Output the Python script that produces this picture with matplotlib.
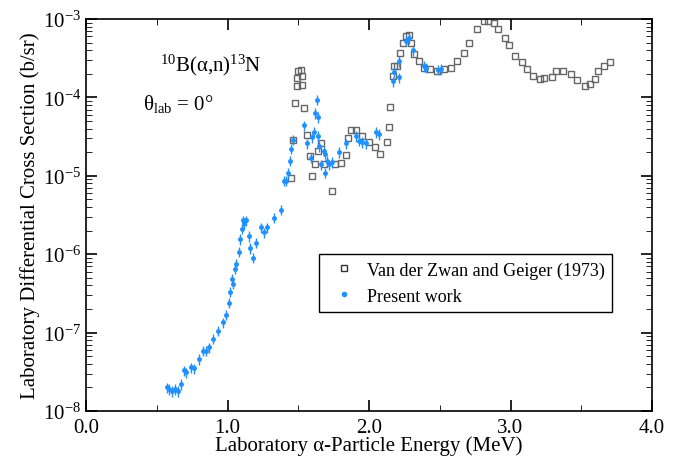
import numpy as np
import matplotlib.pyplot as plt
from matplotlib.ticker import LogLocator, MultipleLocator, FuncFormatter
from matplotlib.lines import Line2D

plt.rcParams['font.family'] = ['Liberation Serif', 'DejaVu Serif']
plt.rcParams['mathtext.fontset'] = 'custom'
plt.rcParams['mathtext.rm'] = 'Liberation Serif'
plt.rcParams['mathtext.it'] = 'Liberation Serif'

# Van der Zwan and Geiger (1973)
vdz_e = [1.45, 1.46, 1.48, 1.49, 1.49, 1.50, 1.52, 1.53, 1.53, 1.54, 1.56, 1.58, 1.60, 1.62,
         1.64, 1.66, 1.68, 1.74, 1.76, 1.80, 1.84, 1.85, 1.87, 1.91, 1.95, 2.00, 2.04, 2.08,
         2.13, 2.14, 2.15, 2.17, 2.18, 2.20, 2.22, 2.24, 2.26, 2.28, 2.30, 2.32, 2.35, 2.39,
         2.43, 2.48, 2.53, 2.58, 2.62, 2.67, 2.71, 2.76, 2.81, 2.84, 2.88, 2.91, 2.96, 2.99,
         3.03, 3.08, 3.12, 3.16, 3.21, 3.24, 3.29, 3.32, 3.37, 3.43, 3.47, 3.53, 3.56, 3.60,
         3.62, 3.66, 3.70]
vdz_s = [9.5e-6, 2.9e-5, 8.5e-5, 1.4e-4, 1.75e-4, 2.2e-4, 2.25e-4, 1.85e-4, 1.45e-4, 7.4e-5,
         3.3e-5, 1.8e-5, 1.0e-5, 1.4e-5, 2.1e-5, 2.6e-5, 1.4e-5, 6.4e-6, 1.4e-5, 1.45e-5,
         1.85e-5, 3.0e-5, 3.8e-5, 3.8e-5, 3.2e-5, 2.7e-5, 2.3e-5, 1.9e-5, 2.7e-5, 4.2e-5,
         7.6e-5, 1.9e-4, 2.5e-4, 2.5e-4, 3.7e-4, 5.0e-4, 6.1e-4, 6.2e-4, 5.0e-4, 3.6e-4,
         2.9e-4, 2.4e-4, 2.3e-4, 2.2e-4, 2.3e-4, 2.4e-4, 2.9e-4, 3.7e-4, 5.0e-4, 7.4e-4,
         9.3e-4, 9.5e-4, 9.0e-4, 7.4e-4, 5.8e-4, 4.6e-4, 3.4e-4, 2.85e-4, 2.3e-4, 1.9e-4,
         1.7e-4, 1.75e-4, 1.8e-4, 2.2e-4, 2.2e-4, 2.0e-4, 1.65e-4, 1.4e-4, 1.5e-4, 1.7e-4,
         2.2e-4, 2.5e-4, 2.85e-4]

# Present work
pw_e = [0.57, 0.59, 0.61, 0.63, 0.65, 0.67, 0.69, 0.71, 0.74, 0.76, 0.80, 0.83, 0.85, 0.87,
        0.90, 0.93, 0.97, 0.99, 1.01, 1.02, 1.03, 1.04, 1.05, 1.06, 1.08, 1.09, 1.10, 1.11,
        1.12, 1.13, 1.15, 1.16, 1.18, 1.20, 1.24, 1.26, 1.28, 1.33, 1.38, 1.40, 1.41, 1.43,
        1.44, 1.45, 1.46, 1.54, 1.56, 1.59, 1.60, 1.61, 1.62, 1.63, 1.64, 1.64, 1.65, 1.66,
        1.68, 1.69, 1.69, 1.70, 1.72, 1.74, 1.79, 1.84, 1.91, 1.93, 1.95, 1.98, 2.05, 2.07,
        2.17, 2.18, 2.21, 2.21, 2.26, 2.28, 2.31, 2.39, 2.40, 2.49, 2.51]
pw_s = [2.0e-8, 1.9e-8, 1.8e-8, 1.9e-8, 1.8e-8, 2.2e-8, 3.3e-8, 3.1e-8, 3.6e-8, 3.5e-8,
        4.6e-8, 5.9e-8, 5.9e-8, 6.5e-8, 8.3e-8, 1.05e-7, 1.35e-7, 1.7e-7, 2.4e-7, 3.3e-7,
        4.8e-7, 4.2e-7, 6.5e-7, 7.6e-7, 1.07e-6, 1.56e-6, 2.1e-6, 2.7e-6, 2.5e-6, 2.7e-6,
        1.7e-6, 1.2e-6, 9.0e-7, 1.4e-6, 2.2e-6, 1.9e-6, 2.2e-6, 2.9e-6, 3.7e-6, 8.7e-6,
        8.7e-6, 1.1e-5, 1.55e-5, 2.2e-5, 2.9e-5, 4.4e-5, 2.6e-5, 1.7e-5, 3.1e-5, 3.6e-5,
        6.3e-5, 9.3e-5, 5.6e-5, 3.2e-5, 2.4e-5, 1.4e-5, 2.1e-5, 1.1e-5, 1.9e-5, 1.55e-5,
        1.4e-5, 1.5e-5, 2.0e-5, 2.6e-5, 3.2e-5, 2.8e-5, 2.7e-5, 2.6e-5, 3.6e-5, 3.4e-5,
        1.6e-4, 2.1e-4, 1.8e-4, 2.9e-4, 5.3e-4, 5.7e-4, 4.0e-4, 2.5e-4, 2.4e-4, 2.25e-4, 2.3e-4]

fig = plt.figure(figsize=(6.81, 4.64), dpi=100)
ax = fig.add_axes([86 / 681, 1 - 412 / 464, 566 / 681, 392 / 464])

ax.plot(vdz_e, vdz_s, 's', mfc='none', mec='#666666', ms=4.5, mew=1.0)
pw_s = np.array(pw_s)
ax.errorbar(pw_e, pw_s, yerr=0.15 * pw_s, fmt='o', color='#1e90ff', ms=2.5,
            elinewidth=1.0, capsize=0)

ax.set_yscale('log')
ax.set_xlim(0, 4.0)
ax.set_ylim(1e-8, 1e-3)
ax.xaxis.set_major_locator(MultipleLocator(1.0))
ax.xaxis.set_minor_locator(MultipleLocator(0.5))
ax.xaxis.set_major_formatter(FuncFormatter(lambda v, p: f'{v:.1f}'))
ax.yaxis.set_major_locator(LogLocator(base=10, numticks=10))
ax.yaxis.set_minor_locator(LogLocator(base=10, subs=np.arange(2, 10), numticks=20))
ax.yaxis.set_major_formatter(FuncFormatter(lambda v, p: r'$\mathregular{10^{%d}}$' % round(np.log10(v))))
ax.tick_params(which='both', direction='in', top=True, right=True, labelsize=15)
ax.tick_params(which='major', length=8, width=1.2)
ax.tick_params(which='minor', length=4)
ax.tick_params(axis='x', pad=5)
for s in ax.spines.values():
    s.set_linewidth(1.2)

ax.set_xlabel('Laboratory α-Particle Energy (MeV)', fontsize=15, labelpad=-1)
ax.set_ylabel('Laboratory Differential Cross Section (b/sr)', fontsize=15, labelpad=2)

ax.text(0.13, 0.87, r'$\mathregular{^{10}}$B(α,n)$\mathregular{^{13}}$N', transform=ax.transAxes, fontsize=15)
ax.text(0.1, 0.77, r'θ$\mathregular{_{lab}}$ = 0°', transform=ax.transAxes, fontsize=15)

handles = [Line2D([], [], ls='none', marker='s', mfc='none', mec='#333333', ms=5),
           Line2D([], [], ls='none', marker='o', color='#1e90ff', ms=3)]
leg = ax.legend(handles, ['Van der Zwan and Geiger (1973)', 'Present work'],
                loc='lower left', bbox_to_anchor=(0.395, 0.23), fontsize=13,
                fancybox=False, edgecolor='black', framealpha=1, handletextpad=0.3)
leg.get_frame().set_linewidth(1.0)

fig.savefig('out.png', dpi=100)
